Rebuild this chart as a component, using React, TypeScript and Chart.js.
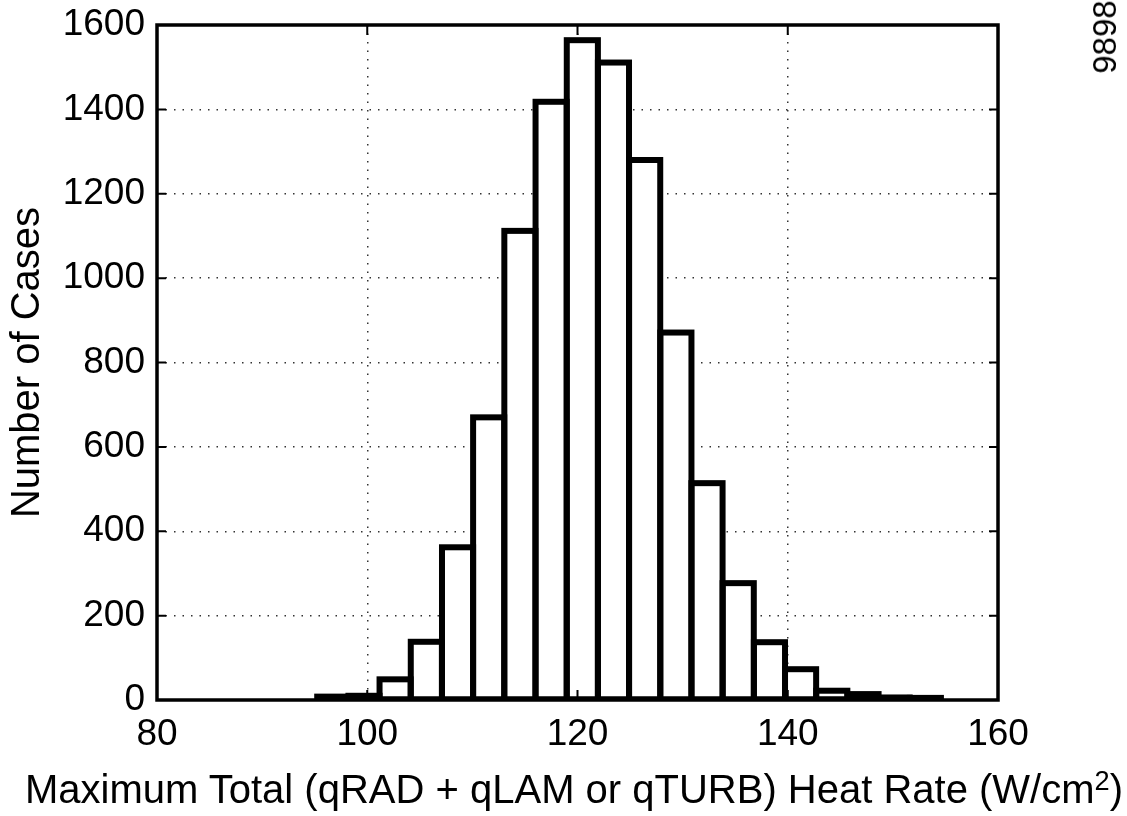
import React, { useEffect, useRef } from 'react';
import { Chart, registerables } from 'chart.js';

Chart.register(...registerables);

// Histogram bins (centre of each bin, W/cm^2) and number of cases per bin
const binCenters = [
  96.72, 99.69, 102.65, 105.62, 108.59, 111.55, 114.52, 117.49, 120.46, 123.42,
  126.39, 129.36, 132.32, 135.29, 138.26, 141.22, 144.19, 147.16, 150.12, 153.09,
];
const caseCounts = [
  8, 10, 49, 138, 362, 670, 1112, 1418, 1564, 1511,
  1280, 871, 514, 277, 137, 73, 22, 14, 6, 5,
];
const xTicks = [80, 100, 120, 140, 160];
const yTicks = [0, 200, 400, 600, 800, 1000, 1200, 1400, 1600];
const xTitleMain = 'Maximum Total (qRAD + qLAM or qTURB) Heat Rate (W/cm';
const xTitleSup = '2';
const xTitleEnd = ')';
const yTitle = 'Number of Cases';
const figureId = '9898';

const FONT = '"Liberation Sans", Arial, Helvetica, sans-serif';

const outlinePlugin = {
  id: 'barOutline',
  afterDatasetsDraw(chart: any) {
    const { ctx, chartArea: a } = chart;
    const meta = chart.getDatasetMeta(0);
    ctx.save();
    ctx.beginPath();
    ctx.rect(a.left, a.top, a.right - a.left, a.bottom - a.top);
    ctx.clip();
    ctx.strokeStyle = '#000';
    ctx.lineWidth = 6;
    ctx.lineJoin = 'miter';
    for (const el of meta.data) {
      const { x, y, base, width } = el.getProps(['x', 'y', 'base', 'width'], true);
      ctx.strokeRect(x - width / 2, y, width, base - y);
    }
    ctx.restore();
  },
};

const framePlugin = {
  id: 'frame',
  afterDraw(chart: any) {
    const { ctx, chartArea: a, scales } = chart;
    const xs = scales.x;
    const ys = scales.y;
    ctx.save();
    ctx.strokeStyle = '#000';
    ctx.lineWidth = 2;
    ctx.beginPath();
    for (const v of yTicks) {
      const py = ys.getPixelForValue(v);
      ctx.moveTo(a.left, py);
      ctx.lineTo(a.left + 9, py);
      ctx.moveTo(a.right, py);
      ctx.lineTo(a.right - 9, py);
    }
    for (const v of xTicks) {
      const px = xs.getPixelForValue(v);
      ctx.moveTo(px, a.bottom);
      ctx.lineTo(px, a.bottom - 10);
      ctx.moveTo(px, a.top);
      ctx.lineTo(px, a.top + 10);
    }
    ctx.stroke();
    ctx.lineWidth = 3.5;
    ctx.strokeRect(a.left, a.top, a.right - a.left, a.bottom - a.top);
    ctx.restore();
  },
};

export default function App() {
  const canvasRef = useRef<HTMLCanvasElement | null>(null);

  useEffect(() => {
    if (!canvasRef.current) return;
    const chart = new Chart(canvasRef.current, {
      type: 'bar',
      data: {
        datasets: [
          {
            data: binCenters.map((c, i) => ({ x: c, y: caseCounts[i] })),
            backgroundColor: '#ffffff',
            borderWidth: 0,
            barPercentage: 1,
            categoryPercentage: 1,
            grouped: false,
          } as any,
        ],
      },
      options: {
        responsive: false,
        animation: false,
        events: [],
        layout: { padding: { left: 0, top: 25, right: 129, bottom: 0 } },
        plugins: {
          legend: { display: false },
          tooltip: { enabled: false },
          title: { display: false },
        },
        scales: {
          x: {
            type: 'linear',
            min: 80,
            max: 160,
            offset: false,
            afterBuildTicks: (s: any) => {
              s.ticks = xTicks.map((v) => ({ value: v }));
            },
            afterFit: (s: any) => {
              s.height = 116;
              s.paddingLeft = 0;
              s.paddingRight = 0;
            },
            ticks: {
              color: '#000',
              font: { family: FONT, size: 37 },
              padding: 13,
              maxRotation: 0,
              autoSkip: false,
              callback: (v: any) => String(v),
            },
            grid: {
              offset: false,
              drawTicks: false,
              color: '#333',
              lineWidth: 1.5,
            },
            border: { display: false, dash: [1.5, 7] },
            title: { display: false },
          } as any,
          y: {
            type: 'linear',
            min: 0,
            max: 1600,
            afterBuildTicks: (s: any) => {
              s.ticks = yTicks.map((v) => ({ value: v }));
            },
            afterFit: (s: any) => {
              s.width = 157;
              s.paddingTop = 0;
              s.paddingBottom = 0;
            },
            ticks: {
              color: '#000',
              font: { family: FONT, size: 37 },
              padding: 12,
              callback: (v: any) => String(v),
            },
            grid: {
              drawTicks: false,
              color: '#333',
              lineWidth: 1.5,
            },
            border: { display: false, dash: [1.5, 7] },
            title: {
              display: true,
              text: yTitle,
              color: '#000',
              font: { family: FONT, size: 40, lineHeight: 1.2 },
              padding: { top: 4, bottom: 0 },
            },
          } as any,
        },
      },
      plugins: [outlinePlugin, framePlugin],
    });
    return () => chart.destroy();
  }, []);

  return (
    <div style={{ position: 'absolute', left: 0, top: 0, width: 1127, height: 816, background: '#fff', overflow: 'hidden' }}>
      <canvas ref={canvasRef} width={1127} height={816} style={{ display: 'block' }} />
      <div
        style={{
          position: 'absolute',
          left: 574,
          top: 766,
          transform: 'translateX(-50%)',
          fontFamily: FONT,
          fontSize: 40,
          lineHeight: '46px',
          color: '#000',
          whiteSpace: 'nowrap',
        }}
      >
        {xTitleMain}
        <span style={{ fontSize: '0.68em', position: 'relative', top: -13, lineHeight: 0 }}>{xTitleSup}</span>
        {xTitleEnd}
      </div>
      <div
        style={{
          position: 'absolute',
          left: 1105,
          top: 37,
          transform: 'translate(-50%, -50%) rotate(-90deg)',
          fontFamily: FONT,
          fontSize: 33,
          lineHeight: '36px',
          color: '#000',
          whiteSpace: 'nowrap',
        }}
      >
        {figureId}
      </div>
    </div>
  );
}
